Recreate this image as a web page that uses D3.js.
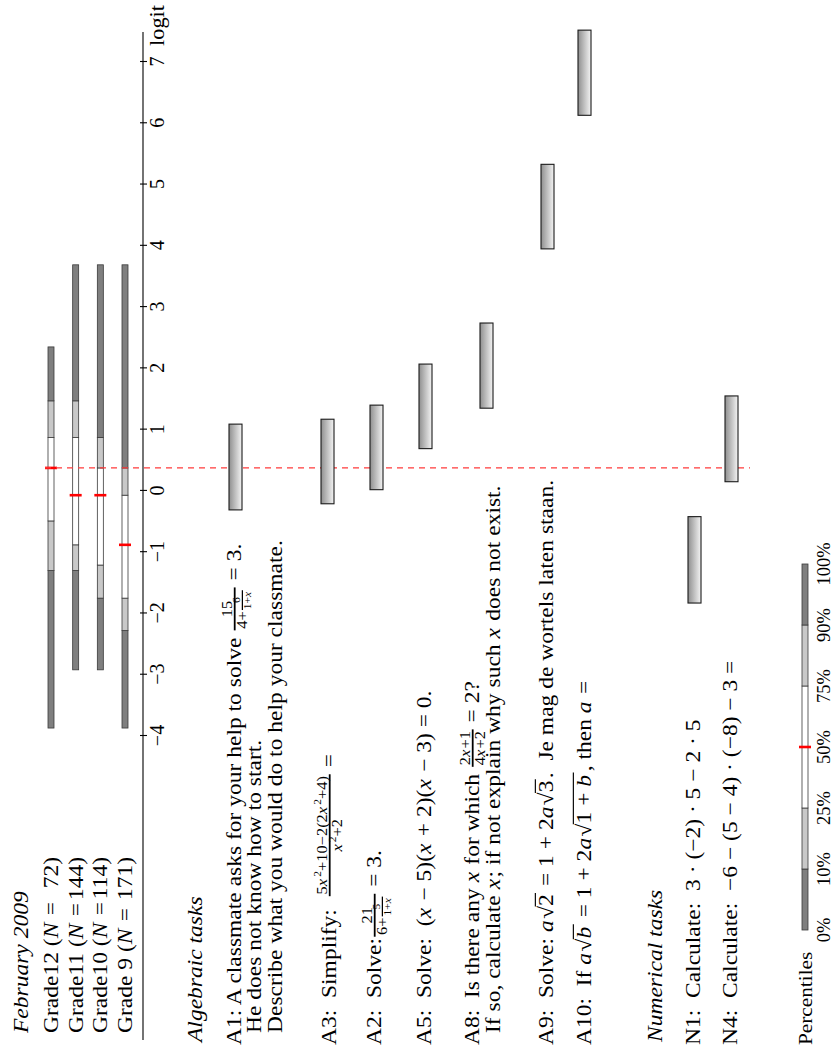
<!DOCTYPE html>
<html><head><meta charset="utf-8">
<script src="https://cdn.jsdelivr.net/npm/d3@7"></script>
<style>html,body{margin:0;padding:0;background:#fff} svg text{white-space:pre}</style>
</head><body><svg id="c" width="835" height="1050"></svg>
<script>
// ---------------- DATA ----------------
const logitTicks = [-4,-3,-2,-1,0,1,2,3,4,5,6,7];
const gradeLabels = ["Grade12","Grade11","Grade10","Grade 9"];
const gradeN = [72,144,114,171];
// percentile positions (logits) per grade
const gradeP0   = [-3.87,-2.92,-2.92,-3.87];
const gradeP10  = [-1.30,-1.30,-1.75,-2.28];
const gradeP25  = [-0.49,-0.88,-1.21,-1.75];
const gradeP50  = [ 0.375,-0.07,-0.07,-0.88];
const gradeP75  = [ 0.87, 0.87, 0.375,-0.07];
const gradeP90  = [ 1.47, 1.47, 0.87, 0.375];
const gradeP100 = [ 2.35, 3.69, 3.69, 3.69];
const referenceLogit = 0.375;
const taskIds  = ["A1","A3","A2","A5","A8","A9","A10","N1","N4"];
const taskLow  = [-0.31,-0.21,0.02,0.69,1.35,3.95,6.13,-1.83,0.15];
const taskHigh = [ 1.09, 1.17,1.40,2.07,2.74,5.33,7.52,-0.42,1.55];
const percentileLabels = ["0%","10%","25%","50%","75%","90%","100%"];

// ---------------- SETUP ----------------
const W=835,H=1050;
const FONT="'Liberation Serif','Times New Roman',serif";
const FS=21, SX=1.12;
const svg=d3.select('#c');
svg.append('rect').attr('width',W).attr('height',H).attr('fill','#fff');
const defs=svg.append('defs');
const grad=defs.append('linearGradient').attr('id','barGrad').attr('x1',0).attr('y1',0).attr('x2',0).attr('y2',1);
grad.append('stop').attr('offset','0%').attr('stop-color','#8f8f8f');
grad.append('stop').attr('offset','100%').attr('stop-color','#f4f4f4');

const meas=svg.append('text').attr('visibility','hidden').style('font-family',FONT);
function tw(s,size,it){meas.attr('font-size',size).attr('font-style',it?'italic':'normal').text(s);return meas.node().getComputedTextLength();}

// rotated frame: u along text (screen up), v down (screen right)
const g=svg.append('g').attr('transform',`translate(0,${H}) rotate(-90)`);

function txt(gg,s,x,y,size,it,anchor){
  return gg.append('text').attr('x',x).attr('y',y).attr('font-size',size)
    .attr('font-family',FONT).attr('font-style',it?'italic':'normal')
    .attr('text-anchor',anchor||'start').attr('fill','#000').text(s);
}
function box(pieces,size){
  const items=pieces.map(p=>item(p,size));
  const w=d3.sum(items,d=>d.w);
  return {w,draw(gg,x,y){let cx=x;items.forEach(it=>{it.draw(gg,cx,y);cx+=it.w;});}};
}
function item(p,size){
  if(typeof p==='string'){const w=tw(p,size,false);return {w,draw:(gg,x,y)=>txt(gg,p,x,y,size,false)};}
  if(p.i!==undefined){const w=tw(p.i,size,true)+size*0.06;return {w,draw:(gg,x,y)=>txt(gg,p.i,x,y,size,true)};}
  if(p.sup){const s=size*0.7;const b=box(p.sup,s);return {w:b.w+1,draw:(gg,x,y)=>b.draw(gg,x+1,y-size*0.4)};}
  if(p.frac){
    const s2=size*0.7;
    const num=box(p.frac[0],s2),den=box(p.frac[1],s2);
    const pad=size*0.12;
    const w=Math.max(num.w,den.w)+2*pad;
    return {w,draw(gg,x,y){
      const axis=y-size*0.3;
      gg.append('line').attr('x1',x+1).attr('x2',x+w-1).attr('y1',axis).attr('y2',axis)
        .attr('stroke','#000').attr('stroke-width',Math.max(1,size*0.085));
      num.draw(gg,x+(w-num.w)/2,axis-size*0.13);
      den.draw(gg,x+(w-den.w)/2,axis+size*0.1+s2*0.68);
    }};
  }
  if(p.sqrt){
    const rw=tw('\u221A',size,false);
    const b=box(p.sqrt,size);
    const w=rw+b.w+2;
    return {w,draw(gg,x,y){
      txt(gg,'\u221A',x,y,size,false);
      gg.append('line').attr('x1',x+rw-0.6).attr('x2',x+rw+b.w+1).attr('y1',y-size*0.84).attr('y2',y-size*0.84)
        .attr('stroke','#000').attr('stroke-width',size*0.055);
      b.draw(gg,x+rw,y);
    }};
  }
}
function line(pieces,u,v,size,anchor,sx){
  const b=box(pieces,size||FS);
  const lg=g.append('g').attr('transform',`translate(${u},${v}) scale(${sx||SX},1)`);
  b.draw(lg,anchor==='end'?-b.w:(anchor==='middle'?-b.w/2:0),0);
}

// ---------------- SCALES ----------------
const x=d3.scaleLinear().domain([-4,7]).range([314,988]);
const gradeV=d3.scalePoint().domain(gradeLabels).range([51,125]);
const taskV=d3.scaleOrdinal().domain(taskIds).range([235.5,327.5,376.5,425.5,486.5,547.5,584.5,694.5,731.5]);
const legendU=d3.scalePoint().domain(percentileLabels).range([120,486]);
const legendV=805;

// ---------------- AXIS ----------------
g.append('line').attr('x1',10).attr('x2',1018).attr('y1',143).attr('y2',143).attr('stroke','#000').attr('stroke-width',1.1);
const ax=g.append('g').attr('transform','translate(0,143)')
  .call(d3.axisBottom(x).tickValues(logitTicks).tickSizeInner(4).tickSizeOuter(0)
    .tickFormat(d=>d<0?'\u2212'+Math.abs(d):String(d)));
ax.select('.domain').remove();
ax.selectAll('.tick line').attr('y1',-3).attr('y2',4).attr('stroke','#000').attr('stroke-width',1.1);
ax.selectAll('.tick text').attr('y',21).attr('dy',0).attr('font-size',20).attr('font-family',FONT).attr('fill','#000');
line(['logit'],1004,164,20);

// ---------------- PERCENTILE BARS ----------------
function pctBar(v,vals,median,scale){
  const segs=[[vals[0],vals[1],'#7f7f7f'],[vals[1],vals[2],'#c8c8c8'],[vals[2],vals[4],'#ffffff'],[vals[4],vals[5],'#c8c8c8'],[vals[5],vals[6],'#7f7f7f']];
  g.selectAll(null).data(segs).enter().append('rect')
    .attr('x',d=>scale(d[0])).attr('width',d=>scale(d[1])-scale(d[0]))
    .attr('y',v-3).attr('height',6).attr('fill',d=>d[2]).attr('stroke','#3a3a3a').attr('stroke-width',0.8);
  g.append('line').attr('x1',scale(median)).attr('x2',scale(median)).attr('y1',v-6).attr('y2',v+6)
    .attr('stroke','#ff0000').attr('stroke-width',2.6);
}
gradeLabels.forEach((gl,i)=>{
  const v=gradeV(gl);
  pctBar(v,[gradeP0[i],gradeP10[i],gradeP25[i],gradeP50[i],gradeP75[i],gradeP90[i],gradeP100[i]],gradeP50[i],x);
  line([gl+' (',{i:'N'},' ='],17,v+7);
  line([gradeN[i]+')'],193,v+7,FS,'end');
});
pctBar(legendV,percentileLabels,'50%',legendU);

// reference line
g.append('line').attr('x1',x(referenceLogit)).attr('x2',x(referenceLogit)).attr('y1',45).attr('y2',750)
  .attr('stroke','#ff3b3b').attr('stroke-width',1.2).attr('stroke-dasharray','6,5');

// task bars
g.selectAll('.task').data(taskIds).enter().append('rect').attr('class','task')
  .attr('x',(d,i)=>x(taskLow[i])).attr('width',(d,i)=>x(taskHigh[i])-x(taskLow[i]))
  .attr('y',d=>taskV(d)-6.5).attr('height',13)
  .attr('fill','url(#barGrad)').attr('stroke','#1a1a1a').attr('stroke-width',1.1);

// ---------------- TEXT ----------------
line([{i:'February 2009'}],17,28);
line([{i:'Algebraic tasks'}],8,202);
const X={i:'x'},A={i:'a'};
line(['A1: A classmate asks for your help to solve ',{frac:[['15'],['4+',{frac:[['6'],['1+',X]]}]]},' = 3.'],5,241);
line(['He does not know how to start.'],17,261);
line(['Describe what you would do to help your classmate.'],17,282);
line(['A3:  Simplify:  ',{frac:[['5',X,{sup:['2']},'+10\u22122(2',X,{sup:['2']},'+4)'],[X,{sup:['2']},'+2']]},' ='],5,336);
line(['A2:  Solve:',{frac:[['21'],['6+',{frac:[['5'],['1+',X]]}]]},' = 3.'],5,381);
line(['A5:  Solve:  (',X,' \u2212 5)(',X,' + 2)(',X,' \u2212 3) = 0.'],5,431);
line(['A8:  Is there any ',X,' for which ',{frac:[['2',X,'+1'],['4',X,'+2']]},' = 2?'],5,479);
line(['If so, calculate ',X,'; if not explain why such ',X,' does not exist.'],17,500);
line(['A9:  Solve: ',A,{sqrt:['2']},' = 1 + 2',A,{sqrt:['3']},'.  Je mag de wortels laten staan.'],5,553);
line(['A10:  If ',A,{sqrt:[{i:'b'}]},' = 1 + 2',A,{sqrt:['1 + ',{i:'b'}]},', then ',A,' ='],5,591);
line([{i:'Numerical tasks'}],8,662);
line(['N1:  Calculate:  3 \u00B7 (\u22122) \u00B7 5 \u2212 2 \u00B7 5'],5,700);
line(['N4:  Calculate:  \u22126 \u2212 (5 \u2212 4) \u00B7 (\u22128) \u2212 3 ='],5,737);
line(['Percentiles'],5,812,19);
percentileLabels.forEach(p=>line([p],legendU(p),830,18.5,'middle',1));
meas.remove();
</script></body></html>
